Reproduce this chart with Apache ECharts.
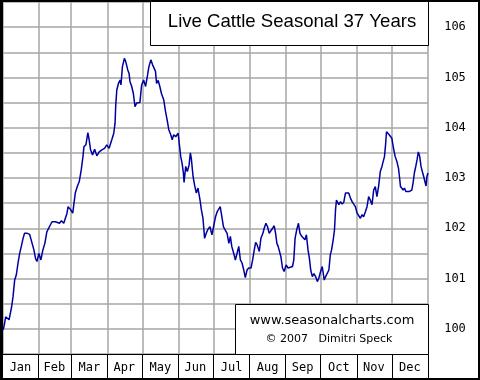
<!DOCTYPE html>
<html>
<head>
<meta charset="utf-8">
<script src="https://cdn.jsdelivr.net/npm/echarts@6/dist/echarts.min.js"></script>
<style>html,body{margin:0;padding:0;background:#fff}#c{width:480px;height:380px}</style>
</head>
<body>
<div id="c"></div>
<script>
// ---- data ----
const title = 'Live Cattle Seasonal 37 Years';
const months = ['Jan','Feb','Mar','Apr','May','Jun','Jul','Aug','Sep','Oct','Nov','Dec'];
const monthDays = [31,28,31,30,31,30,31,31,30,31,30,31];
const yTicks = [100,101,102,103,104,105,106];
// day of year
const days = [0.6,1.4,2.8,5.7,7.9,9.1,10.5,11.9,13.4,14.8,16.2,17.7,19.0,21.3,23.3,25.0,27.0,28.4,29.6,31.3,
33.0,34.7,36.4,38.1,39.8,41.2,42.6,45.5,46.9,48.9,50.6,52.6,54.0,55.4,56.3,58.2,60.3,61.4,62.5,64.2,
65.9,67.6,69.1,69.9,71.6,73.3,74.4,75.6,77.3,79.1,81.0,83.0,85.3,87.6,89.5,91.5,93.8,95.5,96.6,97.2,
98.1,99.5,100.9,101.7,102.9,104.6,105.7,107.5,108.6,109.4,110.9,112.3,113.7,115.1,116.6,117.9,119.4,121.1,122.8,124.5,
125.6,127.3,128.8,130.2,131.3,132.2,133.6,135.0,136.4,138.4,139.9,141.3,142.7,144.4,145.6,146.9,148.6,150.7,152.9,154.1,
155.2,155.8,157.2,158.6,160.1,161.2,162.0,163.5,164.8,166.3,167.7,169.5,170.6,172.0,173.4,174.8,176.3,178.0,179.7,181.4,
182.8,184.2,185.3,186.8,188.2,189.6,191.0,192.7,194.2,195.5,196.7,198.4,199.8,201.3,202.7,204.1,205.5,207.0,208.3,209.8,
211.2,213.2,214.6,216.0,217.2,218.3,220.3,221.7,223.4,224.5,226.0,227.4,228.8,230.3,231.7,233.1,234.3,235.4,236.5,237.7,
238.8,240.2,241.6,243.3,245.0,246.7,248.8,249.9,251.0,252.4,253.9,255.2,256.7,258.1,259.5,260.7,262.1,263.3,264.4,265.8,
267.2,268.6,270.1,271.4,272.9,274.3,276.0,277.2,278.9,280.0,281.2,282.3,283.7,284.8,285.7,286.5,287.7,288.5,290.0,291.4,
292.8,294.2,295.7,297.0,298.5,299.9,301.3,302.7,304.2,305.6,307.0,308.5,309.8,311.3,312.7,314.1,315.5,317.0,318.4,319.8,
321.2,322.6,324.1,325.5,326.6,327.7,328.6,329.4,330.6,331.7,332.9,334.0,335.2,336.8,338.3,339.7,340.5,341.4,342.6,343.7,
344.8,346.0,347.4,348.8,349.9,351.1,352.2,353.3,354.5,355.6,356.7,357.9,359.0,360.1,361.3,362.4,363.3,364.1,365.0];
const values = [99.98,100.05,100.24,100.18,100.44,100.64,100.97,101.07,101.31,101.50,101.64,101.80,101.90,101.90,101.88,101.74,101.57,101.40,101.34,101.50,
101.37,101.57,101.70,101.93,101.93,102.07,102.13,102.13,102.10,102.10,102.15,102.10,102.13,102.30,102.43,102.38,102.30,102.50,102.70,102.83,
102.93,103.16,103.43,103.62,103.66,103.90,103.76,103.56,103.46,103.57,103.44,103.52,103.56,103.59,103.66,103.59,103.76,103.89,104.09,104.45,
104.75,104.88,104.95,104.85,105.21,105.38,105.32,105.15,105.08,104.92,104.82,104.68,104.42,104.49,104.50,104.50,104.85,104.95,104.82,105.05,
105.21,105.35,105.25,105.27,105.12,104.88,104.94,104.82,104.68,104.55,104.32,104.15,103.96,103.86,103.76,103.86,103.82,103.89,103.43,103.29,
103.10,102.91,103.23,103.13,103.26,103.50,103.39,103.03,102.86,102.70,102.80,102.56,102.37,102.20,101.80,101.90,101.98,102.03,101.87,102.07,
102.23,102.33,102.37,102.43,102.23,102.03,101.97,101.90,101.70,101.84,101.64,101.50,101.37,101.37,101.64,101.37,101.31,101.17,101.02,101.17,
101.21,101.21,101.37,101.57,101.72,101.68,101.54,101.80,101.90,102.00,102.10,102.03,101.90,101.93,102.00,102.05,101.90,101.70,101.64,101.67,
101.44,101.21,101.14,101.27,101.21,101.23,101.24,101.37,101.80,101.97,102.10,101.90,101.84,101.85,101.77,101.87,101.57,101.40,101.17,101.04,
101.10,101.04,100.94,101.01,101.14,101.24,100.97,101.04,101.07,101.17,101.47,101.57,101.77,101.97,102.37,102.56,102.58,102.47,102.53,102.48,
102.52,102.70,102.73,102.70,102.60,102.53,102.53,102.43,102.30,102.27,102.20,102.27,102.23,102.33,102.43,102.63,102.56,102.47,102.76,102.83,
102.63,102.83,103.13,103.23,103.23,103.43,103.66,103.92,103.89,103.86,103.89,103.79,103.62,103.43,103.33,103.19,103.03,102.83,102.86,102.76,
102.80,102.73,102.76,102.73,102.70,102.76,102.90,103.10,103.23,103.36,103.52,103.43,103.23,103.13,103.03,103.00,102.84,103.03,103.10];

// ---- derived ----
const monthStarts = [];
const dayLabels = [];
let acc = 0;
monthDays.forEach((n, m) => {
  monthStarts.push(acc);
  for (let i = 0; i < n; i++) dayLabels.push(i === Math.floor((n - 1) / 2) ? months[m] : '');
  acc += n;
});
const totalDays = acc;
const seriesData = days.map((d, i) => [d, values[i]]);

const chart = echarts.init(document.getElementById('c'), null, {renderer: 'canvas'});
const gridColor = '#a6a6a6';
chart.setOption({
  animation: false,
  backgroundColor: '#ffffff',
  grid: {left: 0, right: 52, top: 2, bottom: 26, containLabel: false},
  xAxis: [
    {type: 'value', min: 0, max: totalDays, show: false},
    {
      type: 'category', position: 'bottom', data: dayLabels, boundaryGap: true,
      axisLine: {show: true, lineStyle: {color: '#000', width: 1}},
      axisTick: {show: true, length: 26, interval: (i) => monthStarts.includes(i), lineStyle: {color: '#000', width: 1}},
      axisLabel: {interval: 0, margin: 8, color: '#000', fontFamily: 'DejaVu Sans Mono', fontSize: 12},
      splitLine: {show: true, interval: (i) => monthStarts.includes(i), lineStyle: {color: gridColor, width: 1.5}}
    }
  ],
  yAxis: {
    type: 'value', position: 'right', min: 99.5, max: 106.5, interval: 0.5,
    axisLine: {show: true, lineStyle: {color: '#000', width: 1}},
    axisTick: {show: false},
    axisLabel: {
      margin: 27, align: 'center', color: '#000', fontFamily: 'DejaVu Sans Mono', fontSize: 12,
      formatter: (v) => (yTicks.includes(v) ? String(v) : '')
    },
    splitLine: {show: true, lineStyle: {color: gridColor, width: 1.5}}
  },
  series: [{
    type: 'line', xAxisIndex: 0, yAxisIndex: 0, data: seriesData,
    showSymbol: false, symbol: 'none', smooth: false,
    lineStyle: {color: '#0000a0', width: 1.5}, z: 3
  }],
  graphic: [
    {type: 'rect', shape: {x: 150.5, y: 0.5, width: 278, height: 45}, style: {fill: '#fff', stroke: '#000', lineWidth: 1}, z: 10},
    {type: 'text', x: 292, y: 22, style: {text: title, fill: '#000', font: '18.6px "Liberation Sans", Arial, sans-serif', textAlign: 'center', textVerticalAlign: 'middle'}, z: 11},
    {type: 'rect', shape: {x: 235.5, y: 304.5, width: 193, height: 50}, style: {fill: '#fff', stroke: '#000', lineWidth: 1}, z: 10},
    {type: 'text', x: 332, y: 321, style: {text: 'www.seasonalcharts.com', fill: '#000', font: '13px "DejaVu Sans", sans-serif', textAlign: 'center', textVerticalAlign: 'middle'}, z: 11},
    {type: 'text', x: 329, y: 339, style: {text: '\u00A9 2007   Dimitri Speck', fill: '#000', font: '11px "DejaVu Sans", sans-serif', textAlign: 'center', textVerticalAlign: 'middle'}, z: 11},
    {type: 'rect', shape: {x: 1, y: 1, width: 478, height: 378}, style: {fill: 'none', stroke: '#000', lineWidth: 2}, z: 20}
  ]
});
</script>
</body>
</html>
